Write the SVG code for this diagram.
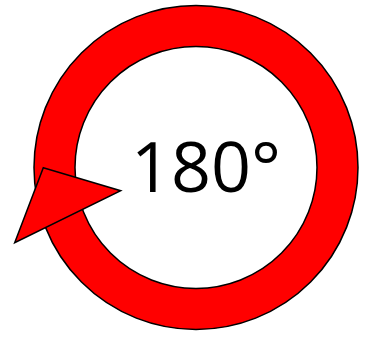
<svg xmlns="http://www.w3.org/2000/svg" width="365" height="338" viewBox="0 0 365 338">
<style>
.shape{fill:#ff0000;stroke:#000;stroke-width:1.5;stroke-linejoin:miter}
.lbl{font-family:"Open Sans","Noto Sans",sans-serif;font-size:70px;fill:#000}
</style>
<rect width="365" height="338" fill="#fff"/>
<g id="ring">
<path class="shape" fill-rule="evenodd" d="M358,167.5A162,162 0 1,1 34,167.5A162,162 0 1,1 358,167.5Z M317,167.5A121,121 0 1,0 75,167.5A121,121 0 1,0 317,167.5Z"/>
</g>
<g id="arrowhead">
<polygon class="shape" points="43.3,167.7 120.7,190.7 14.7,242.7"/>
</g>
<g id="label">
<text class="lbl" x="206" y="192" text-anchor="middle">180°</text>
</g>
</svg>
